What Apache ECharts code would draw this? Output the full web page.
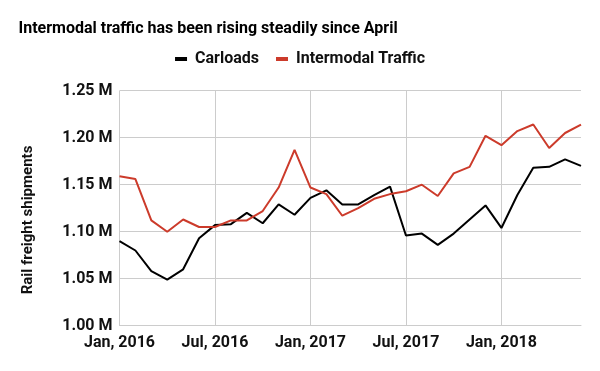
<!DOCTYPE html>
<html>
<head>
<meta charset="utf-8">
<script src="https://cdn.jsdelivr.net/npm/echarts@6/dist/echarts.min.js"></script>
<style>html,body{margin:0;padding:0;background:#fff;}#c{width:600px;height:371px;}</style>
</head>
<body>
<div id="c"></div>
<script>
const months = ["Jan","Feb","Mar","Apr","May","Jun","Jul","Aug","Sep","Oct","Nov","Dec"];
const categories = [];
for (const y of [2016, 2017, 2018]) for (const m of months) categories.push(m + ", " + y);
categories.length = 30; // Jan 2016 .. Jun 2018

const carloads = [1.090,1.080,1.058,1.049,1.060,1.093,1.107,1.108,1.120,1.109,1.129,1.118,
  1.136,1.144,1.129,1.129,1.139,1.148,1.096,1.098,1.086,1.098,1.113,1.128,
  1.104,1.139,1.168,1.169,1.177,1.170];
const intermodal = [1.159,1.156,1.112,1.100,1.113,1.105,1.105,1.112,1.112,1.122,1.147,1.187,
  1.147,1.140,1.117,1.125,1.135,1.140,1.143,1.150,1.138,1.162,1.169,1.202,
  1.192,1.207,1.214,1.189,1.205,1.214];
const yTicks = [1.00, 1.05, 1.10, 1.15, 1.20, 1.25];

const FONT = 'Roboto';
const chart = echarts.init(document.getElementById('c'));
chart.setOption({
  animation: false,
  backgroundColor: '#fff',
  textStyle: { fontFamily: FONT },
  title: {
    text: 'Intermodal traffic has been rising steadily since April',
    left: 18.5, top: 21, padding: 0,
    textStyle: { fontFamily: FONT, fontSize: 16, fontWeight: 'bold', color: '#000' }
  },
  legend: {
    left: 'center', top: 51, padding: 0, itemGap: 17,
    itemWidth: 12, itemHeight: 4, icon: 'rect',
    textStyle: { fontFamily: FONT, fontSize: 16, fontWeight: 'bold', color: '#111', padding: [0,0,0,3] },
    data: ['Carloads', 'Intermodal Traffic']
  },
  graphic: [{
    type: 'text', x: 28, y: 220, rotation: Math.PI / 2,
    style: { text: 'Rail freight shipments', fontFamily: FONT, fontSize: 15, fontWeight: 'bold',
      fill: '#111', align: 'center', verticalAlign: 'middle' }
  }],
  grid: { left: 119.5, right: 19, top: 90.7, bottom: 45.3, containLabel: false },
  xAxis: {
    type: 'category', data: categories, boundaryGap: false,
    axisLine: { lineStyle: { color: '#ccc' } },
    axisTick: { show: false },
    axisLabel: { interval: 5, margin: 9, fontFamily: FONT, fontSize: 16, fontWeight: 'bold', color: '#111' },
    splitLine: { show: true, interval: 5, lineStyle: { color: '#ccc', width: 1 } }
  },
  yAxis: {
    type: 'value', min: yTicks[0], max: yTicks[yTicks.length - 1], interval: 0.05,
    axisLine: { show: false }, axisTick: { show: false },
    axisLabel: { margin: 7, fontFamily: FONT, fontSize: 16, fontWeight: 'bold', color: '#111',
      formatter: v => v.toFixed(2) + ' M' },
    splitLine: { lineStyle: { color: '#ccc', width: 1 } }
  },
  series: [
    { name: 'Carloads', type: 'line', data: carloads, showSymbol: false, symbol: 'none',
      lineStyle: { color: '#000', width: 2 }, itemStyle: { color: '#000' } },
    { name: 'Intermodal Traffic', type: 'line', data: intermodal, showSymbol: false, symbol: 'none',
      lineStyle: { color: '#cc3b2b', width: 2 }, itemStyle: { color: '#cc3b2b' } }
  ]
});
</script>
</body>
</html>
